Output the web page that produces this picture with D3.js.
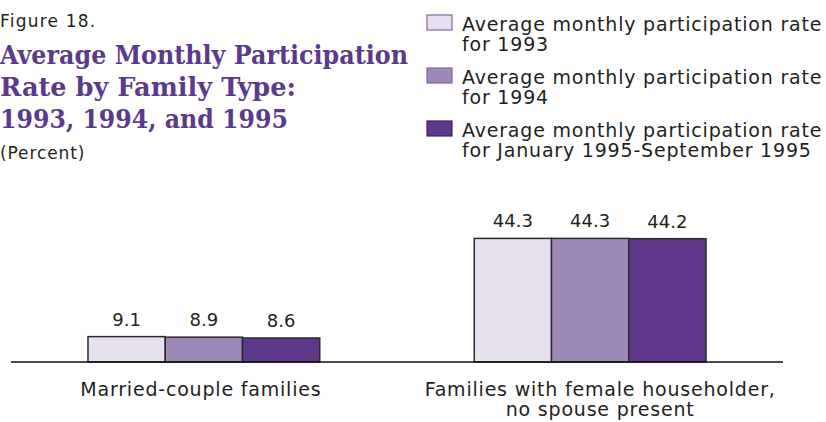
<!DOCTYPE html>
<html>
<head>
<meta charset="utf-8">
<script src="https://cdn.jsdelivr.net/npm/d3@7"></script>
<style>
  body { margin: 0; background: #fff; }
  svg { display: block; }
</style>
</head>
<body>
<svg id="chart" width="826" height="422"></svg>
<script>
// data
const categories = ["Married-couple families", "Families with female householder, no spouse present"];
const categoryLines = [["Married-couple families"], ["Families with female householder,", "no spouse present"]];
const series = ["1993", "1994", "1995"];
const seriesLabels = [
  ["Average monthly participation rate", "for 1993"],
  ["Average monthly participation rate", "for 1994"],
  ["Average monthly participation rate", "for January 1995-September 1995"]
];
const values1993 = [9.1, 44.3];
const values1994 = [8.9, 44.3];
const values1995 = [8.6, 44.2];
const valueLabels = [["9.1", "8.9", "8.6"], ["44.3", "44.3", "44.2"]];

const fills = ["#e7e0ee", "#9d89b8", "#5e3989"];
const legendStrokes = ["#8467a6", "#8467a6", "#3a2460"];
const purple = "#5b3a8c";
const ink = "#231f20";
const sans = "'DejaVu Sans', sans-serif";
const serif = "'DejaVu Serif', serif";

const svg = d3.select("#chart");
const baseY = 362;

const x0 = d3.scaleBand().domain(categories).range([88, 706]).paddingInner(0.4).paddingOuter(0);
const x1 = d3.scaleBand().domain(series).range([0, x0.bandwidth()]).padding(0);
const y = d3.scaleLinear().domain([0, 50]).range([baseY, baseY - 139.5]);

const rows = categories.map((c, i) => ({
  cat: c,
  vals: [values1993[i], values1994[i], values1995[i]],
  labels: valueLabels[i]
}));

// shrink a text to a given width if it runs wider
function fit(sel, w) {
  const n = sel.node();
  if (n.getComputedTextLength() > w) sel.attr("textLength", w).attr("lengthAdjust", "spacingAndGlyphs");
  return sel;
}

// title block
fit(svg.append("text").attr("x", 0).attr("y", 27)
  .attr("font-family", sans).attr("font-size", 17).attr("letter-spacing", 1.2).attr("fill", ink)
  .text("Figure 18."), 98);

const titleLines = ["Average Monthly Participation", "Rate by Family Type:", "1993, 1994, and 1995"];
const titleWidths = [408, 296, 288];
titleLines.forEach((t, i) => {
  svg.append("text").attr("x", 0).attr("y", 64 + i * 32)
    .attr("font-family", serif).attr("font-weight", "bold")
    .attr("font-size", 26).attr("fill", purple)
    .attr("textLength", titleWidths[i]).attr("lengthAdjust", "spacingAndGlyphs")
    .text(t);
});

fit(svg.append("text").attr("x", 0).attr("y", 159)
  .attr("font-family", sans).attr("font-size", 17).attr("letter-spacing", 0.9).attr("fill", ink)
  .text("(Percent)"), 86);

// legend
const legend = svg.append("g");
series.forEach((s, i) => {
  const g = legend.append("g").attr("transform", `translate(0, ${i * 53})`);
  g.append("rect").attr("x", 427).attr("y", 15).attr("width", 25).attr("height", 15)
    .attr("fill", fills[i]).attr("stroke", legendStrokes[i]).attr("stroke-width", 1.2);
  seriesLabels[i].forEach((line, j) => {
    fit(g.append("text").attr("x", 462).attr("y", 31 + j * 20)
      .attr("font-family", sans).attr("font-size", 19).attr("letter-spacing", 0.8).attr("fill", ink)
      .text(line), 362);
  });
});

// bars
const groups = svg.append("g").selectAll("g").data(rows).join("g")
  .attr("transform", d => `translate(${x0(d.cat)},0)`);

groups.selectAll("rect").data(d => d.vals.map((v, i) => ({ s: series[i], v, i })))
  .join("rect")
  .attr("x", d => x1(d.s))
  .attr("y", d => y(d.v))
  .attr("width", x1.bandwidth())
  .attr("height", d => y(0) - y(d.v))
  .attr("fill", d => fills[d.i])
  .attr("stroke", "#2b2b2b")
  .attr("stroke-width", 1.5);

groups.selectAll("text.val").data(d => d.vals.map((v, i) => ({ s: series[i], v, t: d.labels[i] })))
  .join("text").attr("class", "val")
  .attr("x", d => x1(d.s) + x1.bandwidth() / 2)
  .attr("y", d => y(d.v) - 11)
  .attr("text-anchor", "middle")
  .attr("font-family", sans).attr("font-size", 18).attr("fill", ink)
  .text(d => d.t);

// baseline
svg.append("line").attr("x1", 11).attr("x2", 783).attr("y1", baseY).attr("y2", baseY)
  .attr("stroke", "#111").attr("stroke-width", 1.6);

// category labels
categories.forEach((c, i) => {
  const cx = x0(c) + x0.bandwidth() / 2 + (i === 0 ? -3 : 10);
  categoryLines[i].forEach((line, j) => {
    svg.append("text").attr("x", cx).attr("y", 396 + j * 20)
      .attr("text-anchor", "middle")
      .attr("font-family", sans).attr("font-size", 19).attr("letter-spacing", 0.8).attr("fill", ink)
      .text(line);
  });
});
</script>
</body>
</html>
